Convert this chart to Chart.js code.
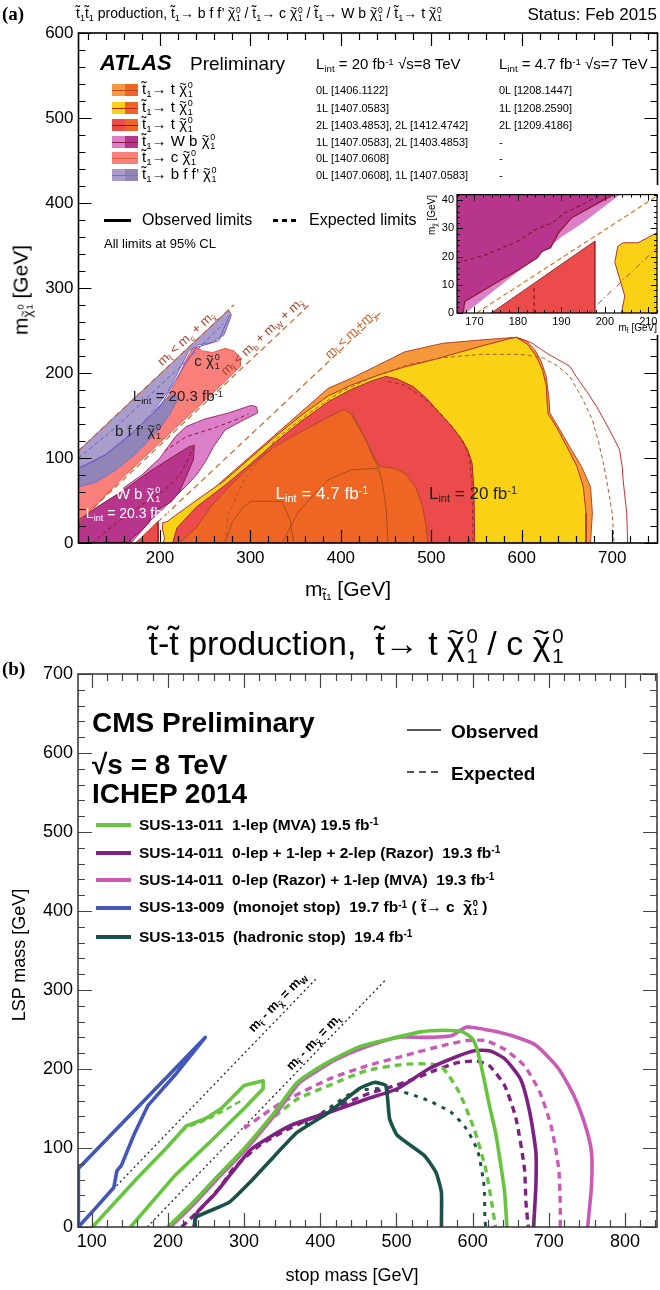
<!DOCTYPE html>
<html><head><meta charset="utf-8">
<script src="https://cdn.jsdelivr.net/npm/chart.js@4.4.1/dist/chart.umd.min.js"></script>
<style>
body{margin:0;width:660px;height:1290px;position:relative;background:#fff;font-family:"Liberation Sans",Arial,Helvetica,sans-serif;overflow:hidden;color:#000}
canvas{position:absolute}
.t{position:absolute;white-space:pre;line-height:1}
.sb{font-size:0.65em;position:relative;top:0.3em}
.sp{font-size:0.65em;position:relative;top:-0.45em}
.ss{display:inline-block;vertical-align:middle;font-size:0.6em;line-height:1;text-align:left;margin-left:0.08em}
.ss>span{display:block}
.tx{position:relative;display:inline-block}
.tx::after{content:"~";position:absolute;left:0;width:100%;text-align:center;top:-0.28em;font-size:0.8em;line-height:1}
.box{position:absolute}
</style></head>
<body>
<canvas id="cA" width="660" height="600" style="left:0;top:0"></canvas>
<canvas id="cI" width="240" height="150" style="left:420px;top:185px;background:#fff"></canvas>
<canvas id="cB" width="660" height="670" style="left:0;top:620px"></canvas>
<script>
const FONT='"Liberation Sans", Arial, Helvetica, sans-serif';
// ---------------- Panel (a) : ATLAS ----------------
const aXTicks=[200,300,400,500,600,700];
const aYTicks=[0,100,200,300,400,500,600];
const aOrange0L=[[215,0],[240,45],[272,76],[327,127],[386,182],[412,194],[437,207],[471,225],[513,235],[556,239],[594,242],[605,238],[614,228],[621,215],[627,196],[630,170],[631,153],[640,137],[653,113],[666,90],[676,66],[678,35],[676,0]];
const aYellow1L=[[204,0],[205,6],[202.5,18],[203,24],[208,25],[212,28.5],[240,50],[272,74],[300,100],[327,125],[356,150],[386,173],[412,186],[440,197],[470,207],[500,215],[530,224],[560,233],[585,240],[594,242],[606,234],[616,220],[623,203],[627,185],[628,165],[629,152],[638,137],[650,113],[661,90],[668,66],[671,35],[671,0]];
const aRed2L=[[214,0],[219,18],[240,42],[272,68],[300,93],[327,118],[356,143],[386,166],[412,181],[435,191],[450,196],[462,193],[480,184],[495,170],[509,153],[522,138],[532,124],[540,110],[545,94],[547,66],[548,0]];
const aDark7=[[222,0],[240,18],[258,45],[280,70],[300,90],[325,112],[344,124],[365,136],[386,148],[403,157],[412,152],[420,138],[428,120],[436,103],[443,90],[452,89],[462,87],[472,81],[483,65],[490,44],[494,22],[496,0]];
const aRedTri=[[174,0],[198,25.5],[198,0]];
const a7Line1=[[272,0],[280,25],[293,43],[301,49],[335,49],[344,27],[348,0]];
const a7Line2=[[335,0],[345,20],[352,35],[370,57],[386,74],[411,86],[441,88]];
const a7Line3=[[412,150],[420,135],[428,121],[436,100],[441,90],[446,70],[450,40],[452,0]];
const aExp01=[[272,0],[276,35],[293,74],[327,121],[365,153],[400,178],[437,196],[475,210],[513,218],[556,222],[598,222],[623,218],[640,208],[653,196],[667,170],[678,145],[685,118],[691,90],[696,60],[700,35],[702,0]];
const aObsThin=[[594,242],[610,236],[628,223],[653,208],[660,196],[672,178],[683,160],[696,135],[708,110],[711,90],[712,74],[716,35],[717,0]];
const aExp2L=[[452,190],[470,186],[490,172],[508,155],[522,138],[535,120],[542,100],[545,70],[546,0]];
const aSalmonC=[[110,25],[110,66],[130,80],[150,98],[170,120],[190,145],[205,165],[218,190],[229,216],[238,232],[247,226],[258,224],[272,229],[282,226],[289,218],[289,208],[270,188],[240,158],[200,118],[160,78],[130,45],[115,30]];
const aLavLight=[[110,108.5],[276,274.5],[279,268],[271,245],[258,236],[242,233],[232,226],[222,205],[210,180],[196,160],[180,140],[160,120],[140,104],[120,92],[110,88]];
const aLavDark=[[110,66],[110,88],[120,92],[140,104],[160,120],[180,138],[196,158],[205,168],[215,175],[220,170],[210,150],[200,135],[185,118],[170,102],[150,85],[130,72]];
const aPinkWb=[[168,0],[186,22],[190,27],[195,32],[206,43],[218,56],[230,68],[241,81],[251,97],[259,113],[272,133],[293,145],[308,153],[307,160],[301,162],[276,153],[250,146],[229,137],[217,125],[200,100],[180,80],[160,65]];
const aMagWb=[[110,0],[110,27],[130,42],[160,62],[190,85],[215,102],[232,113],[238,115],[237,98],[229,78],[221,59],[212,48],[203,42.7],[200,40.3],[192.4,33.8],[189.4,28.5],[187.5,23.1],[185.6,21.9],[184.5,19.6],[180.3,15.4],[175,10.7],[167.8,4.1],[167.4,0]];
const aWbExp1=[[125,0],[150,22],[180,45],[205,62],[222,80],[232,100],[236,112]];
const aWbExp2=[[205,108],[229,125],[259,135],[284,145],[298,152]];
const aBffObs=[[110,88],[140,104],[175,135],[200,160],[222,200],[240,230],[265,238],[277,268]];
const aBffExp=[[110,100],[150,135],[190,175],[230,215],[270,258]];
const aKinC=[[110,108.5],[282,280.5]];
const aKinW=[[110,25],[368,283]];
const aKinT=[[173,0],[445,272]];
// ---------------- inset of (a) ----------------
const iXTicks=[170,180,190,200,210];
const iYTicks=[0,10,20,30,40];
const iPink=[[168,0],[186,22],[190,27],[195,32],[206,45],[166,45],[166,0]];
const iMagenta=[[166,0],[167.4,0],[167.8,4.1],[175,10.7],[180.3,15.4],[184.5,19.6],[185.6,21.9],[187.5,23.1],[189.4,28.5],[192.4,33.8],[200,40.3],[205,45],[166,45]];
const iRedTri=[[173.9,0],[197.7,25.5],[197.7,0]];
const iYellow=[[203.8,0],[204.6,6],[202.3,18],[203,23.7],[204.2,24.9],[207.6,24.9],[212,28.5],[213,28.5],[213,0]];
const iMagLine=[[167.4,0],[167.8,4.1],[175,10.7],[180.3,15.4],[184.5,19.6],[185.6,21.9],[187.5,23.1],[189.4,28.5],[192.4,33.8],[200,40.3],[203,42.7]];
const iExpMag=[[166,17.8],[172.8,20.7],[180,25.5],[184.1,29.6],[187.9,32],[190.9,35.6],[194,37.9],[200,42.7]];
const iExpRed=[[196.2,0],[212,23.1]];
const iVert=[[183.7,0],[183.7,10]];
const iKinT=[[170.5,0],[212,41.5]];
// ---------------- Panel (b) : CMS ----------------
const bXTicks=[100,200,300,400,500,600,700,800];
const bYTicks=[0,100,200,300,400,500,600,700];
const bBlue=[[82.5,0],[82.5,74],[249,240],[209,192],[174,154],[156,118],[139,78],[133,71],[129,50],[108,27],[82.5,0]];
const bGreen1=[[101,0],[159,61],[199,101],[224,128],[249,137],[270,150],[300,179],[325,185],[325,175],[300,150],[260,112],[209,65],[151,0]];
const bGreen1Exp=[[200,103],[224,126],[249,135],[275,148],[300,162]];
const bGreen2=[[200,0],[230,28],[260,59],[300,99],[340,145],[370,183],[411,209],[451,228],[491,238],[532,247],[562,249],[587,247],[600,238],[607,221],[615,187],[622,154],[630,120],[637,78],[642,44],[645,0]];
const bGreen2Exp=[[340,140],[370,162],[411,179],[461,198],[511,206],[547,206],[562,200],[582,171],[602,124],[617,74],[625,31],[630,0]];
const bPurple=[[234,0],[239,19],[260,40],[285,70],[310,99],[360,128],[411,145],[461,162],[501,175],[542,200],[572,213],[602,223],[622,223],[642,213],[663,187],[675,145],[683,95],[683,52],[680,0]];
const bPurpleExp=[[218,0],[245,25],[270,52],[285,73],[320,103],[360,125],[411,147],[461,168],[511,183],[550,198],[580,208],[605,210],[622,204],[642,179],[657,137],[668,74],[670,31],[673,0]];
const bMagenta=[[203,0],[233,28],[263,59],[303,99],[343,145],[372,182],[400,200],[421,212],[451,225],[501,240],[542,240],[572,242],[592,253],[622,249],[652,242],[683,230],[713,200],[733,166],[748,128],[756,95],[756,52],[751,0]];
const bMagentaExp=[[300,125],[325,142],[350,158],[411,187],[461,204],[511,217],[562,230],[592,236],[617,236],[642,225],[668,204],[688,171],[703,128],[713,74],[715,31],[715,0]];
const bTeal=[[236,0],[236,12],[280,31],[310,59],[340,90],[370,120],[411,145],[451,175],[471,183],[486,179],[491,137],[501,116],[537,90],[552,69],[559,44],[559,0]];
const bTealExp=[[380,130],[411,150],[446,172],[491,175],[537,162],[572,145],[592,124],[607,95],[615,52],[616,14],[617,0]];
const bKinW=[[128,47.6],[395,314.6]];
const bKinT=[[173,0],[485,312]];

// ---------------- helpers ----------------
const xy=p=>p.map(q=>({x:q[0],y:q[1]}));
function area(p,fc,lc,lw){const d=xy(p);d.push({x:p[0][0],y:p[0][1]});
 return {data:d,showLine:true,fill:'shape',backgroundColor:fc,borderColor:lc,borderWidth:lw,pointRadius:0,tension:0};}
function curve(p,c,lw,dash,ten){return {data:xy(p),showLine:true,fill:false,borderColor:c,backgroundColor:c,borderWidth:lw,borderDash:dash||[],pointRadius:0,tension:ten||0,borderJoinStyle:'round',borderCapStyle:'butt'};}
function stack(list){const n=list.length;list.forEach((d,i)=>d.order=n-i);return list;}
function frame(o){return {id:'frame',afterDatasetsDraw(ch){
 const c=ch.ctx,a=ch.chartArea,X=ch.scales.x,Y=ch.scales.y;
 c.save();c.strokeStyle=o.tc;c.lineWidth=o.tw;c.beginPath();
 for(let k=Math.ceil(X.min/o.xm-1e-9);k*o.xm<=X.max+1e-9;k++){const v=k*o.xm;const px=Math.round(X.getPixelForValue(v))+0.5;
  const L=(Math.abs(v/o.xM-Math.round(v/o.xM))<1e-6)?o.M:o.m;
  c.moveTo(px,a.bottom);c.lineTo(px,a.bottom-L);c.moveTo(px,a.top);c.lineTo(px,a.top+L);}
 for(let k=Math.ceil(Y.min/o.ym-1e-9);k*o.ym<=Y.max+1e-9;k++){const v=k*o.ym;const py=Math.round(Y.getPixelForValue(v))+0.5;
  const L=(Math.abs(v/o.yM-Math.round(v/o.yM))<1e-6)?o.M:o.m;
  c.moveTo(a.left,py);c.lineTo(a.left+L,py);c.moveTo(a.right,py);c.lineTo(a.right-L,py);}
 c.stroke();
 c.strokeStyle=o.fc;c.lineWidth=o.fw;c.strokeRect(a.left,a.top,a.right-a.left,a.bottom-a.top);c.restore();}};}
function opts(s){return {responsive:false,animation:false,events:[],devicePixelRatio:1,
 layout:{padding:s.pad},
 plugins:{legend:{display:false},tooltip:{enabled:false},filler:{drawTime:'beforeDatasetDraw',propagate:false}},
 scales:{
  x:{type:'linear',position:'bottom',min:s.x[0],max:s.x[1],afterFit:a=>{a.height=s.xH;},afterBuildTicks:a=>{a.ticks=s.xt.map(v=>({value:v}));},
     grid:{display:false,drawTicks:false},border:{display:false},ticks:{font:{family:FONT,size:s.fs},color:'#000',padding:s.xp,maxRotation:0,autoSkip:false}},
  y:{type:'linear',position:'left',min:s.y[0],max:s.y[1],afterFit:a=>{a.width=s.yW;},afterBuildTicks:a=>{a.ticks=s.yt.map(v=>({value:v}));},
     grid:{display:false,drawTicks:false},border:{display:false},ticks:{font:{family:FONT,size:s.fs},color:'#000',padding:s.yp,autoSkip:false}}}};}

// ---------------- chart (a) ----------------
new Chart(document.getElementById('cA'),{type:'scatter',
 data:{datasets:stack([
  area(aOrange0L,'#F5983C','#B2452A',1),
  area(aYellow1L,'#F9D216','#B0322A',1),
  area(aRed2L,'#EB4B4B','#9E2A2A',1),
  area(aDark7,'#EE6524','#B04A20',1),
  curve(a7Line1,'#A8501E',1),curve(a7Line2,'#A8501E',1),curve(a7Line3,'#A8501E',1),
  curve(aExp2L,'#9E2A2A',1,[4,3]),
  curve(aExp01,'#B5542A',1,[4,3]),
  curve(aObsThin,'#C83030',1),
  area(aRedTri,'#EB4B4B','#9E2A2A',1),
  area(aSalmonC,'#F97F7B','#E0604A',1),
  area(aLavLight,'#A99ECB','#7D6CC4',1),
  area(aLavDark,'#9185B8','#7D6CC4',1),
  curve(aBffObs,'#6A58C8',1),curve(aBffExp,'#6A58C8',1,[4,3]),
  area(aPinkWb,'#DC7FC8','#A0306A',1),
  area(aMagWb,'#B8358D','#8B1A4A',1),
  curve(aWbExp1,'#8B1A2A',1,[4,3]),curve(aWbExp2,'#8B1A2A',1,[4,3]),
  curve(aKinC,'#C8642D',1.2,[6,4]),curve(aKinW,'#C8642D',1.2,[6,4]),curve(aKinT,'#C8642D',1.2,[6,4])
 ])},
 options:opts({pad:{left:0,right:2.5,top:33,bottom:0},x:[110,750],y:[0,600],xt:aXTicks,yt:aYTicks,xH:57,yW:78.5,fs:17,xp:5,yp:5}),
 plugins:[frame({tc:'#000',tw:1.2,fc:'#000',fw:1.6,xm:20,xM:100,ym:20,yM:100,M:13,m:7})]});

// ---------------- inset ----------------
new Chart(document.getElementById('cI'),{type:'scatter',
 data:{datasets:stack([
  area(iPink,'#DC7FC8','#A0306A',0),
  area(iMagenta,'#B8358D','#B8358D',0),
  area(iRedTri,'#EB4B4B','#9E2A2A',1),
  area(iYellow,'#F9D216','#B0322A',1),
  curve(iMagLine,'#8B1A2A',1.2),
  curve(iExpMag,'#8B1A2A',1.2,[4,3]),
  curve(iExpRed,'#D03030',1,[6,3,1,3]),
  curve(iVert,'#8B1A2A',1.2,[4,3]),
  curve(iKinT,'#D9782D',1.2,[5,3])
 ])},
 options:opts({pad:{left:0,right:3,top:7,bottom:0},x:[166,212],y:[0,42],xt:iXTicks,yt:iYTicks,xH:22,yW:37,fs:11,xp:2,yp:3}),
 plugins:[frame({tc:'#000',tw:1,fc:'#000',fw:1.2,xm:2,xM:10,ym:2,yM:10,M:6,m:3})]});

// ---------------- chart (b) ----------------
const G='#66C43E',P='#7E2183',M='#C95BB7',B='#4257B8',TL='#1A524A';
new Chart(document.getElementById('cB'),{type:'scatter',
 data:{datasets:stack([
  curve(bKinW,'#222',1.3,[2,3]),curve(bKinT,'#222',1.3,[2,3]),
  curve(bTealExp,TL,3,[4,6],0.2),
  curve(bMagentaExp,M,3.4,[7,5],0.2),
  curve(bPurpleExp,P,3.4,[7,5],0.2),
  curve(bGreen2Exp,G,3.4,[7,5],0.2),
  curve(bGreen1Exp,G,2.5,[6,4]),
  curve(bMagenta,M,3.6,[],0.2),
  curve(bPurple,P,3.6,[],0.2),
  curve(bTeal,TL,3.6,[],0.15),
  curve(bGreen2,G,3.6,[],0.2),
  curve(bGreen1,G,3.6),
  curve(bBlue,B,3.6)
 ])},
 options:opts({pad:{left:0,right:3,top:54,bottom:0},x:[82,842],y:[0,700],xt:bXTicks,yt:bYTicks,xH:63,yW:78,fs:18,xp:4,yp:5}),
 plugins:[frame({tc:'#444',tw:1.2,fc:'#333',fw:1.5,xm:20,xM:100,ym:20,yM:100,M:14,m:7})]});

// ---------------- texts ----------------
function T(html,x,y,size,o){o=o||{};const d=document.createElement('div');d.className='t';d.innerHTML=html;
 d.style.fontSize=size+'px';if(o.b)d.style.fontWeight='bold';if(o.i)d.style.fontStyle='italic';
 if(o.serif)d.style.fontFamily='"Liberation Serif","Times New Roman",serif';if(o.c)d.style.color=o.c;
 d.style.left=x+'px';d.style.top=y+'px';const ax=o.a==='c'?'-50%':o.a==='r'?'-100%':'0';
 d.style.transform=`translate(${ax},-50%)`+(o.r?` rotate(${o.r}deg)`:'');document.body.appendChild(d);return d;}
function BOX(x,y,w,h,bg){const d=document.createElement('div');d.className='box';
 d.style.cssText=`left:${x}px;top:${y}px;width:${w}px;height:${h}px;background:${bg}`;document.body.appendChild(d);}
const X='<span class="tx">χ</span>';
const CHI=X+'<span class="ss"><span>0</span><span>1</span></span>';
const ST='t̃<span class="sb">1</span>';
// (a)
T('(a)',2,13,19,{b:1,serif:1});
T(`${ST}${ST} production, ${ST}→ b f f’ ${CHI} / ${ST}→ c ${CHI} / ${ST}→ W b ${CHI} / ${ST}→ t ${CHI}`,76,14,14);
T('Status: Feb 2015',657,14,17,{a:'r'});
T('ATLAS',100,63,22,{b:1,i:1});
T('Preliminary',190,63,19);
T('L<span class="sb">int</span> = 20 fb<span class="sp">-1</span> √s=8 TeV',316,63,15);
T('L<span class="sb">int</span> = 4.7 fb<span class="sp">-1</span> √s=7 TeV',499,63,15);
const aRows=[90,108,125,142,158,175];
const aBoxL=['#F5983C','#F9D216','#EB4B4B','#DC7FC8','#F97F7B','#A99ECB'];
const aBoxR=['#EE6524','#EE6524','#EE6524','#B8358D','#F97F7B','#9185B8'];
const aBoxLine=['#B5472A','#B5262A','#8B1A1A','#8B1A4A','#D8603A','#8070B0'];
const aRowTxt=[`${ST}→ t ${CHI}`,`${ST}→ t ${CHI}`,`${ST}→ t ${CHI}`,`${ST}→ W b ${CHI}`,`${ST}→ c ${CHI}`,`${ST}→ b f f’ ${CHI}`];
const aRef8=['0L [1406.1122]','1L [1407.0583]','2L [1403.4853], 2L [1412.4742]','1L [1407.0583], 2L [1403.4853]','0L [1407.0608]','0L [1407.0608], 1L [1407.0583]'];
const aRef7=['0L [1208.1447]','1L [1208.2590]','2L [1209.4186]','-','-','-'];
aRows.forEach((y,i)=>{BOX(112,y-6,13,12,aBoxL[i]);BOX(125,y-6,13,12,aBoxR[i]);BOX(112,y-0.5,26,1.2,aBoxLine[i]);
 T(aRowTxt[i],142,y,15);T(aRef8[i],316,y,11);T(aRef7[i],499,y,11);});
BOX(104,218.5,27,3,'#000');T('Observed limits',142,220,16);
for(let k=0;k<3;k++)BOX(273+k*9,218.5,5,3,'#000');T('Expected limits',309,220,16);
T('All limits at 95% CL',104,243,13);
T(`m<span class="sb">${X}</span><span class="ss" style="font-size:0.45em;margin-top:0.6em"><span>0</span><span>1</span></span> [GeV]`,22,290,21,{a:'c',r:-90});
T(`m<span class="sb">t̃<span style="font-size:0.7em">1</span></span> [GeV]`,348,588,21,{a:'c'});
T('L<span class="sb">int</span> = 4.7 fb<span class="sp">-1</span>',322,493,17,{a:'c',c:'#fff'});
T('L<span class="sb">int</span> = 20 fb<span class="sp">-1</span>',473,493,17,{a:'c',c:'#222'});
T('L<span class="sb">int</span> = 20.3 fb<span class="sp">-1</span>',178,395,15,{a:'c',c:'#222'});
T(`b f f’ ${CHI}`,138,432,15,{a:'c',c:'#222'});
T(`W b ${CHI}`,138,495,15,{a:'c',c:'#fff'});
T('L<span class="sb">int</span> = 20.3 fb<span class="sp">-1</span>',128,513,14,{a:'c',c:'#fff'});
T(`c ${CHI}`,207,362,15,{a:'c',c:'#222'});
T(`m<span class="sb">t̃</span> &lt; m<span class="sb">c</span> + m<span class="sb">${X}</span>`,186,338,13,{a:'c',r:-43,c:'#A8442A'});
T(`m<span class="sb">t̃</span> &lt; m<span class="sb">b</span> + m<span class="sb">W</span> + m<span class="sb">${X}</span>`,262,336,13,{a:'c',r:-43,c:'#A8442A'});
T(`m<span class="sb">t̃</span> &lt; m<span class="sb">t</span>+m<span class="sb">${X}</span>`,350,334,13,{a:'c',r:-43,c:'#C8642D'});
T(`m<span class="sb">${X}</span> [GeV]`,432,215,10,{a:'c',r:-90});
T(`m<span class="sb">t̃</span> [GeV]`,657,328,10,{a:'r'});
// (b)
T('(b)',2,668,19,{b:1,serif:1});
T(`t̃-t̃ production,  t̃→ t ${CHI} / c ${CHI}`,356,646,34,{a:'c'});
T('LSP mass [GeV]',19,955,18,{a:'c',r:-90});
T('stop mass [GeV]',352,1275,18,{a:'c'});
T('CMS Preliminary',92,723,28,{b:1});
T('√s = 8 TeV',92,765,28,{b:1});
T('ICHEP 2014',92,794,28,{b:1});
BOX(407,729,34,2,'#555');T('Observed',451,731,19,{b:1});
for(let k=0;k<3;k++)BOX(407+k*12,771,7,2,'#555');T('Expected',451,773,19,{b:1});
const bRows=[825,853,880,908,937];
const bCols=[G,P,M,B,TL];
const bTxt=['SUS-13-011  1-lep (MVA) 19.5 fb<span class="sp">-1</span>',
 'SUS-14-011  0-lep + 1-lep + 2-lep (Razor)  19.3 fb<span class="sp">-1</span>',
 'SUS-14-011  0-lep (Razor) + 1-lep (MVA)  19.3 fb<span class="sp">-1</span>',
 `SUS-13-009  (monojet stop)  19.7 fb<span class="sp">-1</span> ( t̃→ c  ${CHI} )`,
 'SUS-13-015  (hadronic stop)  19.4 fb<span class="sp">-1</span>'];
bRows.forEach((y,i)=>{BOX(96,y-2,35,4,bCols[i]);T(bTxt[i],139,y,15.5,{b:1});});
T(`m<span class="sb">t̃</span> - m<span class="sb">${X}</span> = m<span class="sb">W</span>`,277,1002,13,{a:'c',r:-46,b:1});
T(`m<span class="sb">t̃</span> - m<span class="sb">${X}</span> = m<span class="sb">t</span>`,313,1042,13,{a:'c',r:-46,b:1});
</script>
</body></html>
